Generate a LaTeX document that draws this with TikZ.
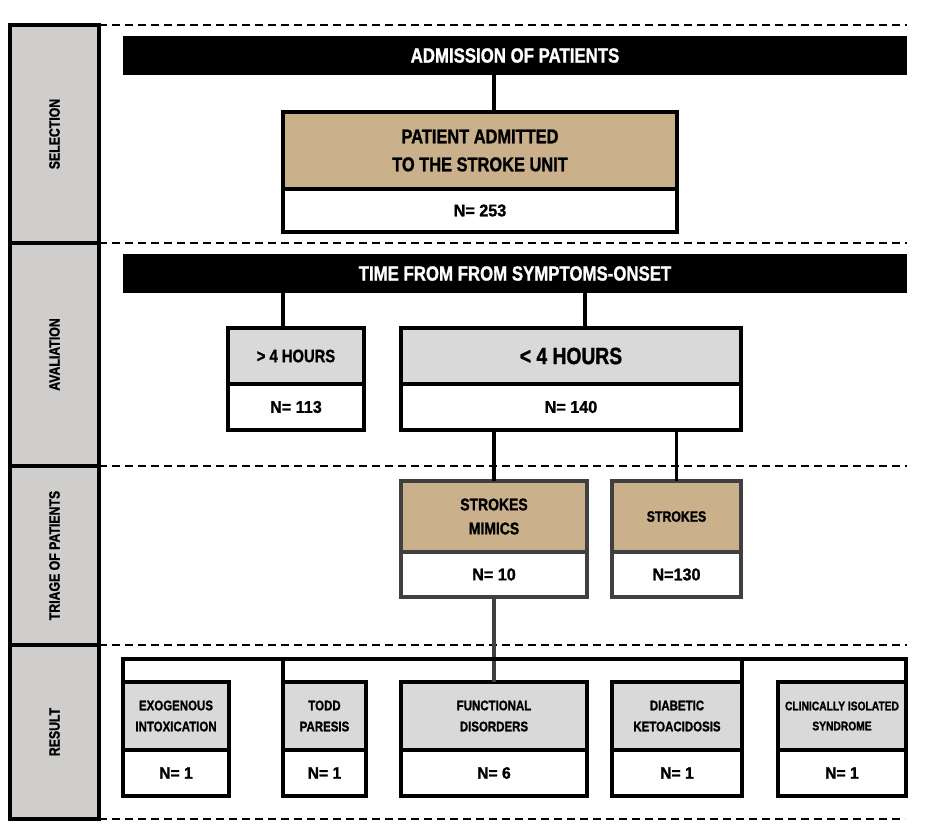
\documentclass[tikz,border=0pt]{standalone}
\usepackage{fontspec}
\setmainfont{Liberation Sans}[FakeStretch=0.82,BoldFeatures={FakeBold=1.2}]
\newfontfamily\numfont{Liberation Sans}[FakeStretch=0.95,BoldFeatures={FakeBold=1.2}]
\usetikzlibrary{positioning}
\definecolor{sidegray}{HTML}{CFCECD}
\definecolor{boxgray}{HTML}{D9D9D9}
\definecolor{tanfill}{HTML}{CAB08B}
\definecolor{darkline}{HTML}{404040}
\tikzset{
	side/.style={draw,line width=3.2pt,fill=sidegray,minimum width=89pt,inner sep=0pt,outer sep=0pt,font=\fontsize{15}{17}\selectfont\bfseries},
	bar/.style={fill=black,text=white,minimum width=784pt,minimum height=39pt,inner sep=0pt,font=\fontsize{20.5}{23}\selectfont\bfseries},
	headbox/.style={draw,line width=3.2pt,align=center,inner sep=0pt,outer sep=0pt},
	numbox/.style={headbox,fill=white,font=\numfont\fontsize{17}{20}\selectfont\bfseries},
	sep/.style={line width=1.6pt,dash pattern=on 8pt off 5pt},
	link/.style={line width=3.2pt}
}

\begin{document}
\begin{tikzpicture}[x=1pt,y=-1pt]
			\useasboundingbox (0,0) rectangle (940,823);
			% stages
			\node[side,minimum height=218pt] (sel) at (54.5,134) {\rotatebox{90}{SELECTION}};
			\node[side,minimum height=223pt,below=0pt of sel] (ava) {\rotatebox{90}{AVALIATION}};
			\node[side,minimum height=179pt,below=0pt of ava] (tri) {\rotatebox{90}{TRIAGE OF PATIENTS}};
			\node[side,minimum height=174pt,below=0pt of tri] (res) {\rotatebox{90}{RESULT}};
			\draw[sep] (sel.north east) -- ++(808,0);
			\draw[sep] (ava.north east) -- ++(808,0);
			\draw[sep] (tri.north east) -- ++(808,0);
			\draw[sep] (res.north east) -- ++(808,0);
			\draw[sep] (res.south east) -- ++(806,0);
			% selection
			\node[bar] (adm) at (515,55.5) {ADMISSION OF PATIENTS};
			\node[headbox,fill=tanfill,minimum width=394pt,minimum height=77pt,font=\fontsize{20}{28}\selectfont\bfseries] (unit) at (480,150.5) {PATIENT ADMITTED\\TO THE STROKE UNIT};
			\node[numbox,minimum width=394pt,minimum height=43pt,below=0pt of unit] (unitn) {N= 253};
			\draw[link] ([xshift=14pt]unit.north) -- ([xshift=14pt]unit.north |- adm.south);
			% avaliation
			\node[bar] (time) at (515,273.5) {TIME FROM FROM SYMPTOMS-ONSET};
			\node[headbox,fill=boxgray,minimum width=136pt,minimum height=56pt,font=\fontsize{18}{20}\selectfont\bfseries] (gt) at (296,356) {> 4 HOURS};
			\node[numbox,minimum width=136pt,minimum height=46pt,below=0pt of gt] (gtn) {N= 113};
			\node[headbox,fill=boxgray,minimum width=340pt,minimum height=56pt,font=\fontsize{23.5}{26}\selectfont\bfseries] (lt) at (571,356) {< 4 HOURS};
			\node[numbox,minimum width=340pt,minimum height=46pt,below=0pt of lt] (ltn) {N= 140};
			\draw[link] ([xshift=-13pt]gt.north) -- ([xshift=-13pt]gt.north |- time.south);
			\draw[link] ([xshift=14pt]lt.north) -- ([xshift=14pt]lt.north |- time.south);
			% triage
			\node[headbox,draw=darkline,fill=tanfill,minimum width=186pt,minimum height=71pt,font=\fontsize{17}{24}\selectfont\bfseries] (mim) at (494,516.5) {STROKES\\MIMICS};
			\node[numbox,draw=darkline,minimum width=186pt,minimum height=45pt,below=0pt of mim] (mimn) {N= 10};
			\node[headbox,draw=darkline,fill=tanfill,minimum width=129pt,minimum height=71pt,font=\fontsize{15}{18}\selectfont\bfseries] (str) at (676.5,516.5) {STROKES};
			\node[numbox,draw=darkline,minimum width=129pt,minimum height=45pt,below=0pt of str] (strn) {N=130};
			\draw[link] (mim.north) -- (mim.north |- ltn.south);
			\draw[link] (str.north) -- (str.north |- ltn.south);
			% result
			\tikzset{resnum/.style={numbox,minimum height=46pt,font=\numfont\fontsize{16.5}{19}\selectfont\bfseries}}
			\node[headbox,fill=boxgray,minimum width=106pt,minimum height=68pt,font=\fontsize{14}{21}\selectfont\bfseries] (exo) at (176,716) {EXOGENOUS\\INTOXICATION};
			\node[resnum,minimum width=106pt,below=0pt of exo] (exon) {N= 1};
			\node[headbox,fill=boxgray,minimum width=83pt,minimum height=68pt,font=\fontsize{14}{21}\selectfont\bfseries] (todd) at (324.5,716) {TODD\\PARESIS};
			\node[resnum,minimum width=83pt,below=0pt of todd] (toddn) {N= 1};
			\node[headbox,fill=boxgray,minimum width=186pt,minimum height=68pt,font=\fontsize{14}{21}\selectfont\bfseries] (fun) at (494,716) {FUNCTIONAL\\DISORDERS};
			\node[resnum,minimum width=186pt,below=0pt of fun] (funn) {N= 6};
			\node[headbox,fill=boxgray,minimum width=130pt,minimum height=68pt,font=\fontsize{14}{21}\selectfont\bfseries] (dia) at (677,716) {DIABETIC\\KETOACIDOSIS};
			\node[resnum,minimum width=130pt,below=0pt of dia] (dian) {N= 1};
			\node[headbox,fill=boxgray,minimum width=128pt,minimum height=68pt,font=\fontsize{12.5}{20}\selectfont\bfseries] (cis) at (842,716) {CLINICALLY ISOLATED\\SYNDROME};
			\node[resnum,minimum width=128pt,below=0pt of cis] (cisn) {N= 1};
			\draw[link,darkline] (mimn.south) -- (fun.north);
			\draw[link] (exo.north west) -- ++(0,-23) -| (cis.north east);
			\draw[link] (todd.north west) -- ++(0,-23);
			\draw[link] (dia.north east) -- ++(0,-23);
		\end{tikzpicture}
\end{document}
